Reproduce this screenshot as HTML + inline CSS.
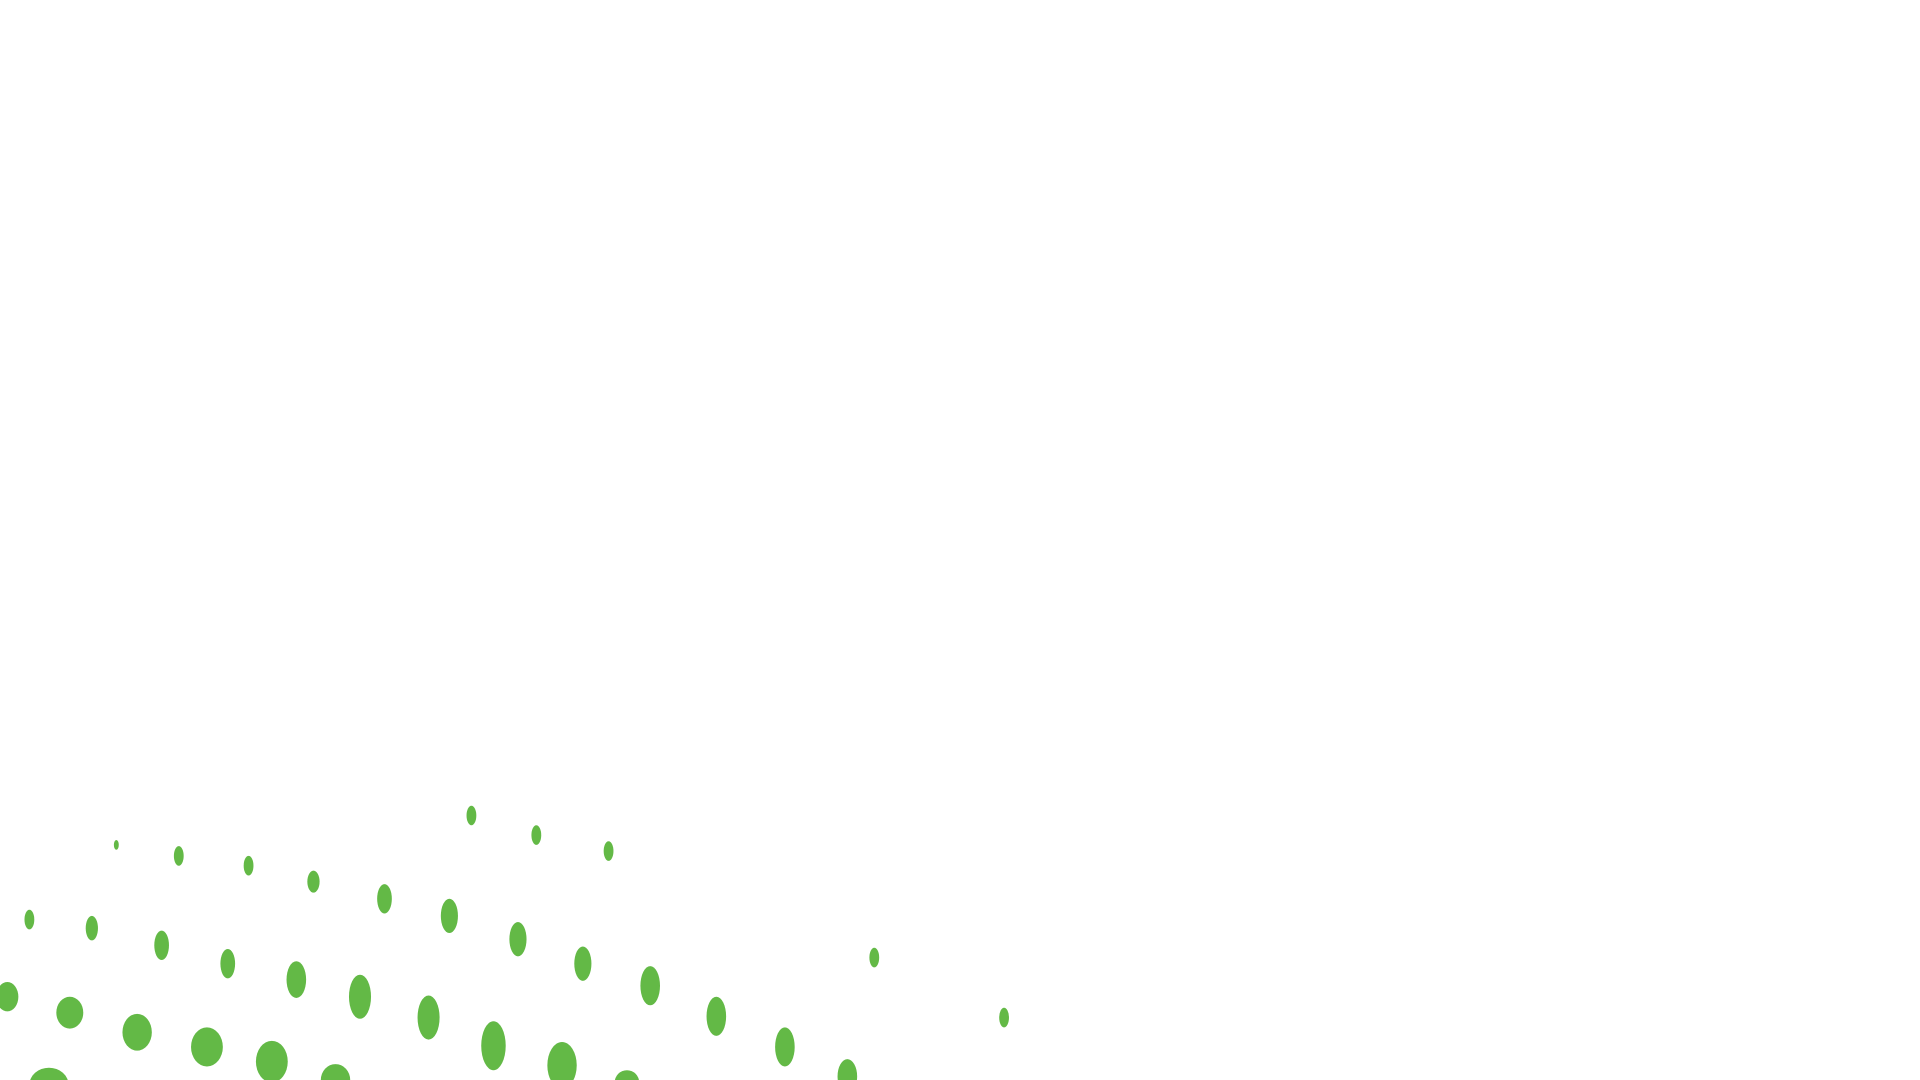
<!DOCTYPE html>
<html><head><meta charset="utf-8"><style>
html,body{margin:0;padding:0;background:#fff;width:1920px;height:1080px;overflow:hidden}
svg{display:block}
</style></head><body>
<svg width="1920" height="1080" viewBox="0 0 1568 882" preserveAspectRatio="none" xmlns="http://www.w3.org/2000/svg">
<g fill="#63b946">
<ellipse cx="385" cy="666" rx="4" ry="8"/>
<ellipse cx="438" cy="682" rx="4" ry="8"/>
<ellipse cx="497" cy="695" rx="4" ry="8"/>
<ellipse cx="95" cy="690" rx="2" ry="4"/>
<ellipse cx="146" cy="699" rx="4" ry="8"/>
<ellipse cx="203" cy="707" rx="4" ry="8"/>
<ellipse cx="256" cy="720" rx="5" ry="9"/>
<ellipse cx="314" cy="734" rx="6" ry="12"/>
<ellipse cx="367" cy="748" rx="7" ry="14"/>
<ellipse cx="423" cy="767" rx="7" ry="14"/>
<ellipse cx="476" cy="787" rx="7" ry="14"/>
<ellipse cx="531" cy="805" rx="8" ry="16"/>
<ellipse cx="585" cy="830" rx="8" ry="16"/>
<ellipse cx="641" cy="855" rx="8" ry="16"/>
<ellipse cx="692" cy="879" rx="8" ry="14"/>
<ellipse cx="714" cy="782" rx="4" ry="8"/>
<ellipse cx="820" cy="831" rx="4" ry="8"/>
<ellipse cx="24" cy="751" rx="4" ry="8"/>
<ellipse cx="75" cy="758" rx="5" ry="10"/>
<ellipse cx="132" cy="772" rx="6" ry="12"/>
<ellipse cx="186" cy="787" rx="6" ry="12"/>
<ellipse cx="242" cy="800" rx="8" ry="15"/>
<ellipse cx="294" cy="814" rx="9" ry="18"/>
<ellipse cx="350" cy="831" rx="9" ry="18"/>
<ellipse cx="403" cy="854" rx="10" ry="20"/>
<ellipse cx="459" cy="870" rx="12" ry="19"/>
<ellipse cx="512" cy="884" rx="10" ry="10"/>
<ellipse cx="6" cy="814" rx="9" ry="12"/>
<ellipse cx="57" cy="827" rx="11" ry="13"/>
<ellipse cx="112" cy="843" rx="12" ry="15"/>
<ellipse cx="169" cy="855" rx="13" ry="16"/>
<ellipse cx="222" cy="867" rx="13" ry="17"/>
<ellipse cx="274" cy="882" rx="12" ry="13"/>
<ellipse cx="40" cy="886" rx="16" ry="14"/>
</g>
</svg>
</body></html>
